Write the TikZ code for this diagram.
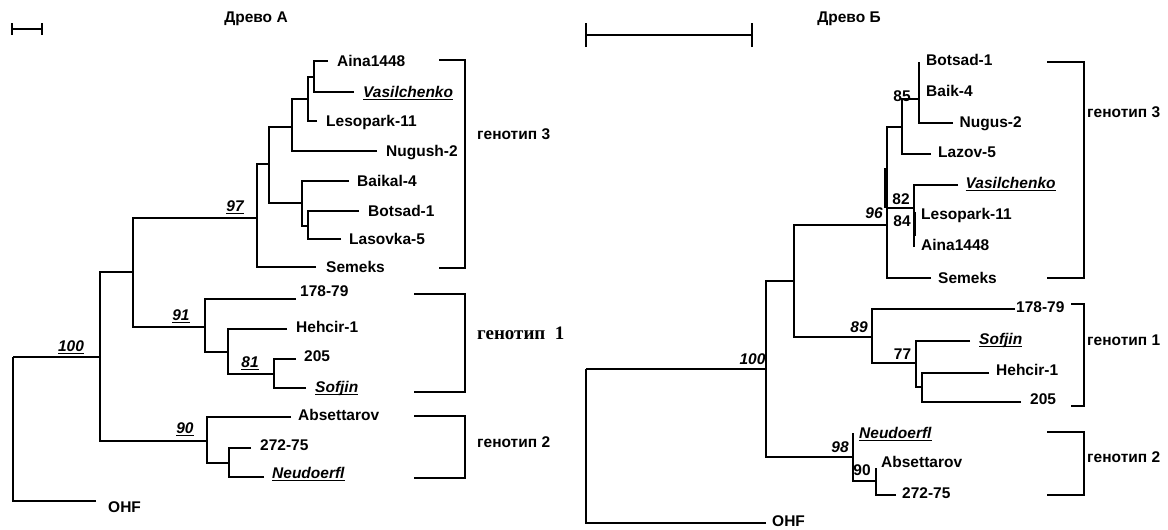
\documentclass[tikz,border=0pt]{standalone}
\usepackage{fontspec}
\setmainfont{Liberation Sans}
\newfontfamily\tnr{Liberation Serif}
\newcommand\myul[1]{\setbox0\hbox{#1}\rlap{\rule[-2.4pt]{\wd0}{1.4pt}}\box0}
\tikzset{
  br/.style={line width=2.5pt},
  thk/.style={line width=3.2pt},
  bk/.style={line width=1.3pt},
  sbar/.style={line width=2.2pt},
  tip/.style={anchor=west,inner sep=0pt,font=\fontsize{15.5}{18}\selectfont\bfseries,text height=11pt,text depth=0pt},
  bs/.style={anchor=center,inner sep=0pt,font=\fontsize{15.5}{18}\selectfont\bfseries,text height=11pt,text depth=0pt},
  bsi/.style={bs,font=\fontsize{15.5}{18}\selectfont\bfseries\itshape},
  gt/.style={tip},
  gts/.style={anchor=west,inner sep=0pt,font=\tnr\fontsize{19}{22}\selectfont\bfseries,text height=9pt,text depth=0pt},
  ttl/.style={bs}
}
\begin{document}
\begin{tikzpicture}[x=1pt,y=-1pt]
\useasboundingbox (0,0) rectangle (1168,530);

% ================= Tree A =================
\node[ttl] (titleA) at (256,17) {Древо А};
\coordinate (sa1) at (12,29); \coordinate (sa2) at (42,29);
\draw[sbar] (sa1) -- (sa2);
\draw[sbar] ([yshift=-6pt]sa1) -- ([yshift=6pt]sa1);
\draw[sbar] ([yshift=-6pt]sa2) -- ([yshift=6pt]sa2);

\coordinate (AR) at (13,357);
\coordinate (A100) at (100,357);
\coordinate (OHFa) at (96,501);
\coordinate (A1) at (133,272);
\coordinate (A97) at (257,218);
\coordinate (A91) at (205,327);
\coordinate (Ab) at (269,164);
\coordinate (SemA) at (316,267);
\coordinate (Ac) at (292,127);
\coordinate (Ad) at (302,203);
\coordinate (Ae) at (308,99);
\coordinate (NugA) at (377,151);
\coordinate (Af) at (314,77);
\coordinate (LesA) at (317,121);
\coordinate (AinA) at (328,61);
\coordinate (VasA) at (354,92);
\coordinate (BaiA) at (349,181);
\coordinate (Ag) at (308,226);
\coordinate (BotA) at (359,211);
\coordinate (LasA) at (341,239);
\coordinate (T178A) at (296,299);
\coordinate (Ah) at (228,352);
\coordinate (HehA) at (287,329);
\coordinate (A81) at (274,374);
\coordinate (T205A) at (296,359);
\coordinate (SofA) at (306,388);
\coordinate (A90) at (207,441);
\coordinate (AbsA) at (291,417);
\coordinate (Ai) at (229,463);
\coordinate (T272A) at (251,448);
\coordinate (NeuA) at (264,477);

\foreach \p/\c in {AR/A100,AR/OHFa,A100/A1,A100/A90,A1/A97,A1/A91,A97/Ab,A97/SemA,
  Ab/Ac,Ab/Ad,Ac/Ae,Ac/NugA,Ae/Af,Ae/LesA,Af/AinA,Af/VasA,Ad/BaiA,Ad/Ag,Ag/BotA,Ag/LasA,
  A91/T178A,A91/Ah,Ah/HehA,Ah/A81,A81/T205A,A81/SofA,A90/AbsA,A90/Ai,Ai/T272A,Ai/NeuA}
  \draw[br] (\c) -| (\p);

\node[tip] (nAinA) at (337,61) {Aina1448};
\node[tip] (nVasA) at (363,92) {\myul{\itshape Vasilchenko}};
\node[tip] (nLesA) at (326,121) {Lesopark-11};
\node[tip] (nNugA) at (386,151) {Nugush-2};
\node[tip] (nBaiA) at (357,181) {Baikal-4};
\node[tip] (nBotA) at (368,211) {Botsad-1};
\node[tip] (nLasA) at (349,239) {Lasovka-5};
\node[tip] (nSemA) at (326,267) {Semeks};
\node[tip] (n178A) at (300,291) {178-79};
\node[tip] (nHehA) at (296,327) {Hehcir-1};
\node[tip] (n205A) at (304,356) {205};
\node[tip] (nSofA) at (315,387) {\myul{\itshape Sofjin}};
\node[tip] (nAbsA) at (298,415) {Absettarov};
\node[tip] (n272A) at (260,445) {272-75};
\node[tip] (nNeuA) at (272,473) {\myul{\itshape Neudoerfl}};
\node[tip] (nOHFA) at (108,507) {OHF};

\node[bsi] (l100A) at (71,346) {\myul{100}};
\node[bsi] (l97A) at (235,206) {\myul{97}};
\node[bsi] (l91A) at (181,315) {\myul{91}};
\node[bsi] (l81A) at (250,362) {\myul{81}};
\node[bsi] (l90A) at (185,428) {\myul{90}};

\draw[bk] (439,60) -- (465,60) -- (465,268) -- (439,268);
\draw[bk] (414,294) -- (465,294) -- (465,392) -- (414,392);
\draw[bk] (414,416) -- (465,416) -- (465,478) -- (414,478);
\node[gt] (g3A) at (477,134) {генотип 3};
\node[gts] (g1A) at (477,335) {генотип \ 1};
\node[gt] (g2A) at (477,442) {генотип 2};

% ================= Tree B =================
\node[ttl] (titleB) at (849,17) {Древо Б};
\coordinate (sb1) at (586,35); \coordinate (sb2) at (752,35);
\draw[sbar] (sb1) -- (sb2);
\draw[sbar] ([yshift=-12pt]sb1) -- ([yshift=12pt]sb1);
\draw[sbar] ([yshift=-12pt]sb2) -- ([yshift=12pt]sb2);

\coordinate (BR) at (586,369);
\coordinate (OHFb) at (766,523);
\coordinate (B100) at (766,369);
\coordinate (Ba) at (794,281);
\coordinate (B98) at (853,457);
\coordinate (B96) at (887,225);
\coordinate (B89) at (872,337);
\coordinate (Bb) at (902,127);
\coordinate (B82) at (914,208);
\coordinate (SemB) at (931,278);
\coordinate (B85) at (919,99);
\coordinate (LazB) at (931,154);
\coordinate (BotB) at (919,62);
\coordinate (BaiB) at (919,91);
\coordinate (NugB) at (953,123);
\coordinate (VasB) at (958,185);
\coordinate (LesB) at (914,214);
\coordinate (AinB) at (914,247);
\coordinate (T178B) at (1015,309);
\coordinate (B77) at (916,363);
\coordinate (SofB) at (970,341);
\coordinate (Bc) at (922,387);
\coordinate (HehB) at (989,373);
\coordinate (T205B) at (1021,402);
\coordinate (NeuB) at (853,433);
\coordinate (B90) at (876,481);
\coordinate (AbsB) at (876,468);
\coordinate (T272B) at (896,495);

\foreach \p/\c in {BR/B100,BR/OHFb,B100/Ba,B100/B98,Ba/B96,Ba/B89,B96/Bb,B96/B82,B96/SemB,
  Bb/B85,Bb/LazB,B85/BotB,B85/BaiB,B85/NugB,B82/VasB,B82/LesB,B82/AinB,
  B89/T178B,B89/B77,B77/SofB,B77/Bc,Bc/HehB,Bc/T205B,B98/NeuB,B98/B90,B90/AbsB,B90/T272B}
  \draw[br] (\c) -| (\p);
\draw[thk] (885.5,168) -- (885.5,208);
\draw[thk] (914.5,212) -- (914.5,236);

\node[tip] (nBotB) at (926,60) {Botsad-1};
\node[tip] (nBaiB) at (926,91) {Baik-4};
\node[tip] (nNugB) at (959.5,122) {Nugus-2};
\node[tip] (nLazB) at (938,152) {Lazov-5};
\node[tip] (nVasB) at (965.5,183) {\myul{\itshape Vasilchenko}};
\node[tip] (nLesB) at (921,214) {Lesopark-11};
\node[tip] (nAinB) at (921,245) {Aina1448};
\node[tip] (nSemB) at (938,278) {Semeks};
\node[tip] (n178B) at (1016,307) {178-79};
\node[tip] (nSofB) at (979,339) {\myul{\itshape Sofjin}};
\node[tip] (nHehB) at (996,370) {Hehcir-1};
\node[tip] (n205B) at (1030,399) {205};
\node[tip] (nNeuB) at (859,433) {\myul{\itshape Neudoerfl}};
\node[tip] (nAbsB) at (881,462) {Absettarov};
\node[tip] (n272B) at (902,493) {272-75};
\node[tip] (nOHFB) at (772,521) {OHF};

\node[bs] (l85B) at (902,96) {85};
\node[bsi] (l96B) at (874,213) {96};
\node[bs] (l82B) at (901,199) {82};
\node[bs] (l84B) at (902,221) {84};
\node[bsi] (l100B) at (752.5,359) {100};
\node[bsi] (l89B) at (859,327) {89};
\node[bs] (l77B) at (902.5,354) {77};
\node[bsi] (l98B) at (840,447) {98};
\node[bs] (l90B) at (862,470) {90};

\draw[bk] (1047,62) -- (1084,62) -- (1084,278) -- (1047,278);
\draw[bk] (1071,304) -- (1084,304) -- (1084,406) -- (1071,406);
\draw[bk] (1047,432) -- (1084,432) -- (1084,495) -- (1047,495);
\node[gt] (g3B) at (1087,112) {генотип 3};
\node[gt] (g1B) at (1087,340) {генотип 1};
\node[gt] (g2B) at (1087,457) {генотип 2};
\end{tikzpicture}
\end{document}
